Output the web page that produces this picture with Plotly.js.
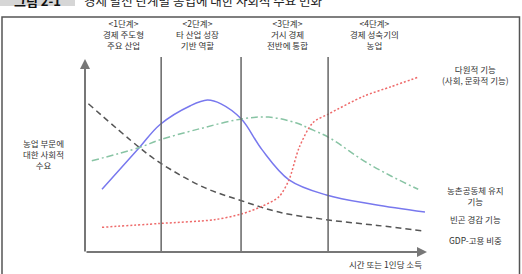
<!DOCTYPE html>
<html>
<head>
<meta charset="utf-8">
<script src="https://cdn.plot.ly/plotly-3.0.1.min.js"></script>
<style>html,body{margin:0;padding:0;background:#fff;}#chart{width:522px;height:274px;}</style>
</head>
<body>
<div id="chart"></div>
<script>
// ---- data (x: time / income 0-100, y: social demand 0-100) ----
const gdpX   = [1, 16, 22, 35, 46, 57, 71, 86, 100];
const gdpY   = [78, 55, 47, 34, 27, 21, 17, 14, 11];
const povX   = [5, 16, 22, 31, 36, 40, 46, 52, 60, 71, 85, 100];
const povY   = [33, 55, 67, 77, 80, 78, 70, 54, 38, 30, 25, 21];
const comX   = [2, 16, 22, 34, 46, 54, 62, 66, 72, 82, 90, 98];
const comY   = [48, 55, 59, 65, 70, 71, 68, 65, 60, 48, 40, 33];
const mulX   = [5, 22, 38, 46, 52, 57, 60, 63, 67, 72, 82, 90, 98];
const mulY   = [13, 15, 17, 20, 24, 29, 38, 55, 68, 73, 82, 87, 92];
const stageBounds = [22.4, 45.9, 71.5];
const stageLabels = [
  ["<1단계>", "경제 주도형", "주요 산업"],
  ["<2단계>", "타 산업 성장", "기반 역할"],
  ["<3단계>", "거시 경제", "전반에 통합"],
  ["<4단계>", "경제 성숙기의", "농업"]
];
const seriesLabels = [
  ["다원적 기능", "(사회, 문화적 기능)"],
  ["농촌공동체 유지", "기능"],
  ["빈곤 경감 기능"],
  ["GDP-고용 비중"]
];
const yLabel = ["농업 부문에", "대한 사회적", "수요"];
const xLabel = "시간 또는 1인당 소득";
const figNo = "그림 2-1";
const figTitle = "경제 발전 단계별 농업에 대한 사회적 수요 변화";

// ---- layout geometry ----
const W = 522, H = 274;
const L = 85, R = 425, T = 62, B = 252;
const px = v => (v - L) / (R - L);
const py = v => (B - v) / (B - T);
const FONT = "Noto Sans CJK KR, Noto Sans, sans-serif";

const traces = [
  {x: gdpX, y: gdpY, mode: 'lines', line: {color: '#555555', width: 1.5, dash: '6px,4px', shape: 'spline', smoothing: 1}},
  {x: povX, y: povY, mode: 'lines', line: {color: '#7878ee', width: 1.5, shape: 'spline', smoothing: 1}},
  {x: comX, y: comY, mode: 'lines', line: {color: '#88c4a4', width: 1.5, dash: '7px,3px,2px,3px', shape: 'spline', smoothing: 1}},
  {x: mulX, y: mulY, mode: 'lines', line: {color: '#ee6a6a', width: 1.5, dash: '2px,2px', shape: 'spline', smoothing: 0.8}}
];

const shapes = [];
const annotations = [];

// outer frame
shapes.push({type: 'rect', xref: 'paper', yref: 'paper', x0: px(2), x1: px(519.5), y0: py(290), y1: py(17),
  line: {color: '#555555', width: 1.5}, fillcolor: 'rgba(0,0,0,0)', layer: 'below'});
// title grey box
shapes.push({type: 'rect', xref: 'paper', yref: 'paper', x0: px(0), x1: px(75), y0: py(6), y1: py(-10),
  line: {width: 0}, fillcolor: '#d6d6d6', layer: 'below'});

// stage boundaries
stageBounds.forEach(b => {
  shapes.push({type: 'line', xref: 'x', yref: 'paper', x0: b, x1: b, y0: 0, y1: py(57),
    line: {color: '#666666', width: 1.5}});
});

// axes with arrows
annotations.push({xref: 'paper', yref: 'paper', x: px(427), y: py(252), ax: px(85), ay: py(252), axref: 'paper', ayref: 'paper',
  showarrow: true, arrowhead: 2, arrowsize: 1, arrowwidth: 2, arrowcolor: '#777777', text: ''});
annotations.push({xref: 'paper', yref: 'paper', x: px(85), y: py(59), ax: px(85), ay: py(253), axref: 'paper', ayref: 'paper',
  showarrow: true, arrowhead: 2, arrowsize: 1, arrowwidth: 2, arrowcolor: '#777777', text: ''});

function txt(x, y, lines, size, opts) {
  const s = Array.isArray(lines) ? lines.join('<br>') : lines;
  annotations.push(Object.assign({xref: 'paper', yref: 'paper', x: px(x), y: py(y), text: s, showarrow: false,
    xanchor: 'center', yanchor: 'middle', align: 'center', borderpad: 0,
    font: {family: FONT, size: size, color: '#333333'}}, opts || {}));
}

// title (cut off at the top, as in the source)
txt(37, 0, "<b>" + figNo + "</b>", 13, {font: {family: FONT, size: 13, color: '#111111'}});
txt(83, 0, figTitle, 12.5, {xanchor: 'left', font: {family: FONT, size: 12.5, color: '#222222'}});

// stage labels
const stageX = [123, 197, 287, 374];
stageLabels.forEach((lines, i) => txt(stageX[i], 33.5, lines, 8.5));

// series labels on the right
const sx = 476;
const sYs = [74.5, 195.5, 219, 240];
seriesLabels.forEach((lines, i) => txt(sx, sYs[i], lines, 8.5));

// y label
txt(43, 154, yLabel, 8.5);
// x label
txt(385, 264, xLabel, 8.5);

const layout = {
  width: W, height: H,
  margin: {l: L, r: W - R, t: T, b: H - B, pad: 0},
  paper_bgcolor: '#ffffff', plot_bgcolor: 'rgba(0,0,0,0)',
  showlegend: false,
  xaxis: {range: [0, 100], visible: false, fixedrange: true},
  yaxis: {range: [0, 100], visible: false, fixedrange: true},
  shapes: shapes,
  annotations: annotations,
  font: {family: FONT}
};

Plotly.newPlot('chart', traces, layout, {displayModeBar: false, staticPlot: true});
</script>
</body>
</html>
